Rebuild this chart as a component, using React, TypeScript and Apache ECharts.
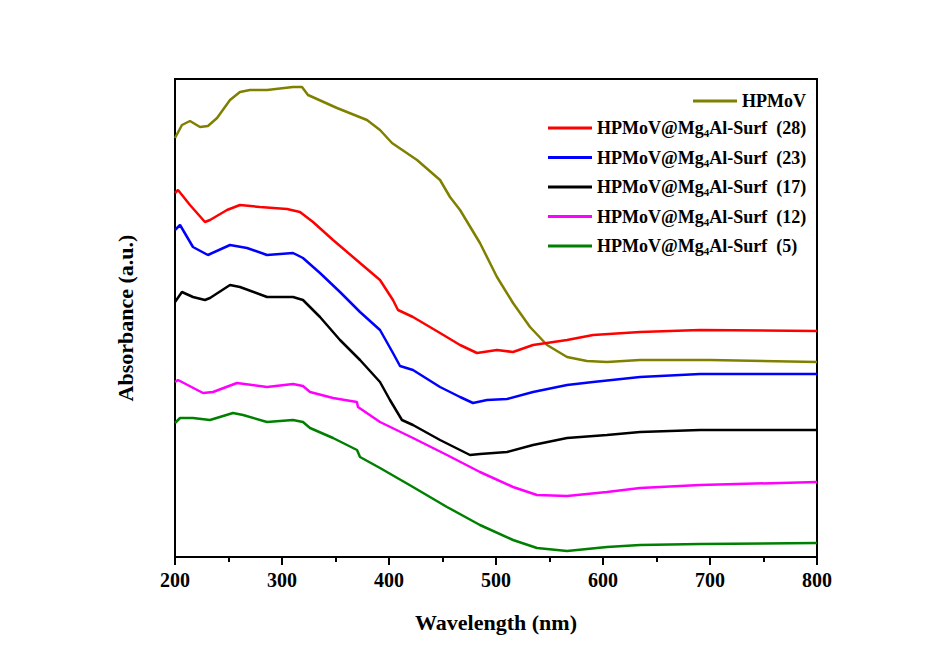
import React, { useEffect, useRef } from "react";
import * as echarts from "echarts";

const seriesNames = [
  "HPMoV",
  "HPMoV@Mg4Al-Surf  (28)",
  "HPMoV@Mg4Al-Surf  (23)",
  "HPMoV@Mg4Al-Surf  (17)",
  "HPMoV@Mg4Al-Surf  (12)",
  "HPMoV@Mg4Al-Surf  (5)",
];
const seriesColors = ["#808000", "#ff0000", "#0000ff", "#000000", "#ff00ff", "#008000"];

const hpmov = [
  [200, 4.19], [206.5, 4.32], [214, 4.36], [223.4, 4.30], [230.8, 4.31], [239.3, 4.39],
  [251.4, 4.57], [260.7, 4.65], [270.1, 4.67], [286, 4.67], [310.3, 4.70], [318.7, 4.70],
  [324.3, 4.62], [351.4, 4.49], [379.4, 4.37], [391.6, 4.27], [402.8, 4.14], [426.2, 3.97],
  [447.7, 3.77], [457, 3.60], [466.4, 3.47], [485, 3.14], [500.9, 2.80], [515.9, 2.54],
  [531.8, 2.30], [547.7, 2.12], [566.4, 2.00], [585, 1.96], [603.7, 1.95], [634.6, 1.97],
  [700, 1.97], [800, 1.95],
];
const surf28 = [
  [200, 3.64], [202.8, 3.67], [214, 3.52], [228, 3.35], [232.7, 3.37], [248.6, 3.47],
  [260.7, 3.52], [279.4, 3.50], [304.7, 3.48], [316.8, 3.45], [329, 3.35], [347.7, 3.17],
  [372.9, 2.94], [391.6, 2.77], [403.7, 2.57], [408.4, 2.47], [422.4, 2.40], [447.7, 2.24],
  [466.4, 2.12], [482.2, 2.04], [500.9, 2.07], [515.9, 2.05], [534.6, 2.12], [566.4, 2.17],
  [590.7, 2.22], [634.6, 2.25], [690.7, 2.27], [800, 2.26],
];
const surf23 = [
  [200, 3.27], [204.7, 3.32], [216.8, 3.10], [230.8, 3.02], [251.4, 3.12], [267.3, 3.09],
  [286, 3.02], [310.3, 3.04], [319.6, 2.99], [335.5, 2.84], [354.2, 2.65], [372.9, 2.45],
  [391.6, 2.27], [403.7, 2.04], [410.3, 1.91], [422.4, 1.87], [447.7, 1.70], [466.4, 1.60],
  [478.5, 1.54], [491.6, 1.57], [510.3, 1.58], [534.6, 1.65], [566.4, 1.72], [590.7, 1.75],
  [634.6, 1.80], [690.7, 1.83], [800, 1.83],
];
const surf17 = [
  [200, 2.55], [206.5, 2.65], [216.8, 2.60], [228, 2.57], [232.7, 2.59], [251.4, 2.72],
  [260.7, 2.70], [286, 2.60], [310.3, 2.60], [319.6, 2.57], [335.5, 2.40], [354.2, 2.17],
  [372.9, 1.97], [391.6, 1.75], [400.9, 1.57], [412.1, 1.37], [422.4, 1.32], [447.7, 1.17],
  [475.7, 1.02], [485, 1.03], [510.3, 1.05], [534.6, 1.12], [566.4, 1.19], [603.7, 1.22],
  [634.6, 1.25], [690.7, 1.27], [800, 1.27],
];
const surf12 = [
  [200, 1.75], [202.8, 1.77], [226.2, 1.64], [235.5, 1.65], [257.9, 1.74], [286, 1.70],
  [310.3, 1.73], [319.6, 1.71], [326.2, 1.65], [347.7, 1.59], [370, 1.55], [371, 1.50],
  [391.6, 1.35], [422.4, 1.19], [454.2, 1.02], [485, 0.85], [515.9, 0.70], [538.3, 0.62],
  [566.4, 0.61], [603.7, 0.65], [634.6, 0.69], [690.7, 0.72], [800, 0.75],
];
const surf5 = [
  [200, 1.34], [204.7, 1.39], [216.8, 1.39], [232.7, 1.37], [254.2, 1.44], [263.6, 1.42],
  [286, 1.35], [310.3, 1.37], [319.6, 1.35], [326.2, 1.29], [347.7, 1.19], [370.1, 1.07],
  [372.9, 1.00], [391.6, 0.89], [422.4, 0.70], [454.2, 0.50], [485, 0.32], [515.9, 0.17],
  [538.3, 0.09], [566.4, 0.06], [603.7, 0.10], [634.6, 0.12], [690.7, 0.13], [800, 0.14],
];
const seriesData = [hpmov, surf28, surf23, surf17, surf12, surf5];

const FONT = "'Liberation Serif', 'Times New Roman', serif";

export default function App() {
  const ref = useRef<HTMLDivElement>(null);
  useEffect(() => {
    document.body.style.margin = "0";
    const chart = echarts.init(ref.current as HTMLDivElement, null, { renderer: "svg" });
    const legendText = {
      fontFamily: FONT,
      fontWeight: "bold",
      fontSize: 18,
      color: "#000",
      rich: {
        sub: {
          fontFamily: FONT,
          fontWeight: "bold",
          fontSize: 11,
          color: "#000",
          verticalAlign: "bottom",
          padding: [10, 0, 0, 0],
        },
      },
    };
    const fmt = (name: string) => name.replace("Mg4", "Mg{sub|4}");
    chart.setOption({
      animation: false,
      backgroundColor: "#ffffff",
      grid: {
        left: 175,
        right: 120,
        top: 79,
        bottom: 107,
        show: true,
        borderColor: "#000",
        borderWidth: 2,
      },
      legend: [
        {
          data: [seriesNames[0]],
          left: 688,
          top: 87,
          orient: "vertical",
          icon: "rect",
          itemWidth: 44,
          itemHeight: 3,
          textStyle: legendText,
          formatter: fmt,
        },
        {
          data: seriesNames.slice(1),
          left: 543,
          top: 114,
          orient: "vertical",
          icon: "rect",
          itemWidth: 44,
          itemHeight: 3,
          itemGap: 10,
          textStyle: legendText,
          formatter: fmt,
        },
      ],
      xAxis: {
        type: "value",
        min: 200,
        max: 800,
        interval: 100,
        name: "Wavelength (nm)",
        nameLocation: "middle",
        nameGap: 54,
        nameTextStyle: { fontFamily: FONT, fontWeight: "bold", fontSize: 22, color: "#000" },
        axisLine: { show: true, lineStyle: { color: "#000", width: 2 } },
        axisTick: { show: true, inside: false, length: 8, lineStyle: { color: "#000", width: 2 } },
        minorTick: { show: true, splitNumber: 2, length: 5, lineStyle: { color: "#000", width: 2 } },
        axisLabel: { fontFamily: FONT, fontWeight: "bold", fontSize: 20, color: "#000", margin: 13 },
        splitLine: { show: false },
      },
      yAxis: {
        type: "value",
        min: 0,
        max: 4.78,
        name: "Absorbance (a.u.)",
        nameLocation: "middle",
        nameGap: 39,
        nameTextStyle: { fontFamily: FONT, fontWeight: "bold", fontSize: 22, color: "#000" },
        axisLine: { show: true, lineStyle: { color: "#000", width: 2 } },
        axisTick: { show: false },
        axisLabel: { show: false },
        splitLine: { show: false },
      },
      series: seriesNames.map((name, i) => ({
        name,
        type: "line",
        data: seriesData[i],
        showSymbol: false,
        symbol: "none",
        color: seriesColors[i],
        lineStyle: { color: seriesColors[i], width: 2.5 },
      })),
    });
    return () => chart.dispose();
  }, []);
  return (
    <div
      ref={ref}
      style={{ position: "absolute", left: 0, top: 0, width: 937, height: 664, background: "#fff" }}
    />
  );
}
